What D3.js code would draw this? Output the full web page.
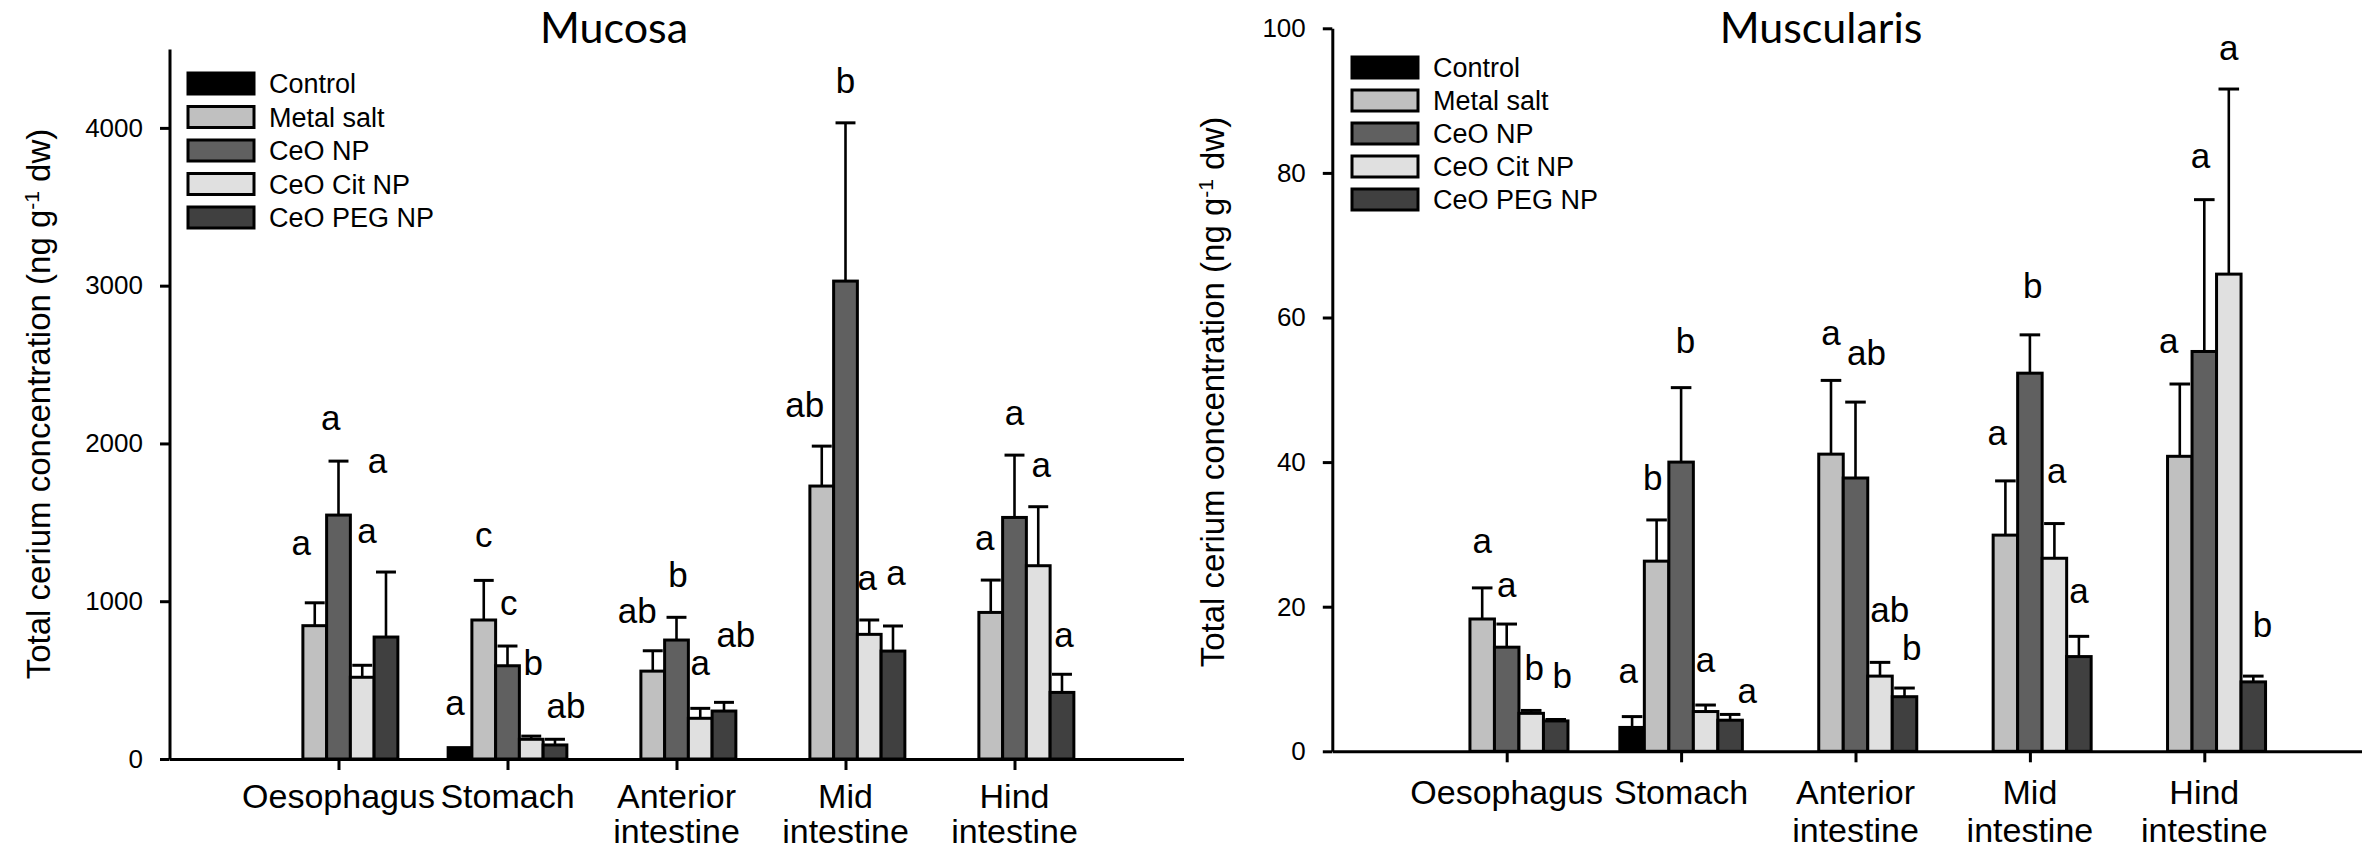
<!DOCTYPE html>
<html>
<head>
<meta charset="utf-8">
<script src="https://cdn.jsdelivr.net/npm/d3@7"></script>
<style>
  body { margin: 0; background: #fff; }
  svg text { font-family: "Liberation Sans", Arial, sans-serif; fill: #000; }
</style>
</head>
<body>
<div id="chart"></div>
<script>
/* Categories and groups */
const regions = ["Oesophagus", "Stomach", "Anterior intestine", "Mid intestine", "Hind intestine"];
const treatments = ["Control", "Metal salt", "CeO NP", "CeO Cit NP", "CeO PEG NP"];

/* Mucosa: mean and SE (ng g-1 dw), one value per region */
const mucControl = [null, 72, null, null, null];
const mucMetal   = [845, 881, 557, 1730, 929];
const mucNP      = [1546, 591, 754, 3029, 1531];
const mucCit     = [518, 125, 258, 790, 1225];
const mucPEG     = [773, 89, 304, 684, 422];

const mucControlSE = [null, 0, null, null, null];
const mucMetalSE   = [145, 251, 129, 253, 205];
const mucNPSE      = [342, 125, 144, 1003, 395];
const mucCitSE     = [76, 20, 63, 91, 374];
const mucPEGSE     = [412, 36, 55, 159, 115];

/* Mucosa: significance letters */
const mucControlLet = [null, "a", null, null, null];
const mucMetalLet   = ["a", "c", "ab", "ab", "a"];
const mucNPLet      = ["a", "c", "b", "b", "a"];
const mucCitLet     = ["a", "b", "a", "a", "a"];
const mucPEGLet     = ["a", "ab", "ab", "a", "a"];

/* Muscularis: mean and SE (ng g-1 dw) */
const musControl = [null, 3.3, null, null, null];
const musMetal   = [18.3, 26.3, 41.1, 29.9, 40.8];
const musNP      = [14.4, 40.0, 37.8, 52.3, 55.3];
const musCit     = [5.25, 5.5, 10.4, 26.7, 66.0];
const musPEG     = [4.2, 4.3, 7.55, 13.1, 9.6];

const musControlSE = [null, 1.5, null, null, null];
const musMetalSE   = [4.3, 5.7, 10.2, 7.5, 10.0];
const musNPSE      = [3.2, 10.3, 10.5, 5.3, 21.0];
const musCitSE     = [0.4, 0.9, 1.9, 4.8, 25.6];
const musPEGSE     = [0.2, 0.8, 1.2, 2.8, 0.8];

const musControlLet = [null, "a", null, null, null];
const musMetalLet   = ["a", "b", "a", "a", "a"];
const musNPLet      = ["a", "b", "ab", "b", "a"];
const musCitLet     = ["b", "a", "ab", "a", "a"];
const musPEGLet     = ["b", "a", "b", "a", "b"];

const mucTicks = [0, 1000, 2000, 3000, 4000];
const musTicks = [0, 20, 40, 60, 80, 100];

/* Letter placement: baseline level (data units) and shift (bar widths) */
const mucLetterAt = [[null, 279, null, null, null], [1293, 1343, 862, 2167, 1324], [2085, 912, 1090, 4220, 2116], [1369, 532, 532, 1071, 1787], [1812, 260, 710, 1102, 710]];
const mucLetterDx = [[0, -0.21, 0, 0, 0], [-0.57, 0, -0.65, -0.72, -0.25], [-0.33, 0.05, 0.06, 0, 0], [0.2, 0.08, 0, -0.08, 0.13], [-0.36, 0.46, 0.5, 0.13, 0.08]];
const musLetterAt = [[null, 9.4, null, null, null], [27.4, 36.1, 56.2, 42.4, 55.1], [21.3, 55.1, 53.4, 62.7, 80.7], [9.9, 11.0, 17.9, 37.1, 95.6], [8.8, 6.7, 12.6, 20.5, 15.8]];
const musLetterDx = [[0, -0.16, 0, 0, 0], [0, -0.16, 0, -0.33, -0.45], [0, 0.18, 0.45, 0.12, -0.16], [0.12, 0, 0.4, 0.1, 0], [0.27, 0.7, 0.29, 0, 0.37]];

const fills = ["#000000", "#c0c0c0", "#606060", "#e0e0e0", "#404040"];

const W = 2362, H = 852;

const svg = d3.select("#chart").append("svg")
  .attr("width", W)
  .attr("height", H);

const panels = [
  {
    title: "Mucosa", titleX: 614,
    x0: 169.5, x1: 1183.5, yZero: 759, yTop: 49, yMax: 4500, ticks: mucTicks,
    means: [mucControl, mucMetal, mucNP, mucCit, mucPEG],
    ses: [mucControlSE, mucMetalSE, mucNPSE, mucCitSE, mucPEGSE],
    letters: [mucControlLet, mucMetalLet, mucNPLet, mucCitLet, mucPEGLet],
    letterAt: mucLetterAt, letterDx: mucLetterDx,
    legX: 188, legY: 73, legStep: 33.5,
    ylabX: 50, ylabY: 404, xlabY: 808, xlabGap: 35
  },
  {
    title: "Muscularis", titleX: 1821,
    x0: 1332.3, x1: 2378.7, yZero: 751.3, yTop: 28.3, yMax: 100, ticks: musTicks,
    means: [musControl, musMetal, musNP, musCit, musPEG],
    ses: [musControlSE, musMetalSE, musNPSE, musCitSE, musPEGSE],
    letters: [musControlLet, musMetalLet, musNPLet, musCitLet, musPEGLet],
    letterAt: musLetterAt, letterDx: musLetterDx,
    legX: 1352, legY: 57, legStep: 33,
    ylabX: 1224, ylabY: 392, xlabY: 804, xlabGap: 38
  }
];

panels.forEach(p => {
  const g = svg.append("g");

  const x = d3.scalePoint()
    .domain(regions)
    .range([p.x0, p.x1])
    .padding(1);
  const bw = x.step() * 0.1405;

  const y = d3.scaleLinear()
    .domain([0, p.yMax])
    .range([p.yZero, p.yTop]);

  /* bars */
  p.means.forEach((series, t) => {
    series.forEach((v, r) => {
      if (v == null) return;
      const cx = x(regions[r]) + (t - 2) * bw;
      const se = p.ses[t][r] || 0;
      if (se > 0) {
        g.append("line")
          .attr("x1", cx).attr("x2", cx)
          .attr("y1", y(v)).attr("y2", y(v + se))
          .attr("stroke", "#000").attr("stroke-width", 2.6);
        g.append("line")
          .attr("x1", cx - bw * 0.42).attr("x2", cx + bw * 0.42)
          .attr("y1", y(v + se)).attr("y2", y(v + se))
          .attr("stroke", "#000").attr("stroke-width", 3);
      }
      g.append("rect")
        .attr("x", cx - bw / 2)
        .attr("y", y(v))
        .attr("width", bw)
        .attr("height", y(0) - y(v))
        .attr("fill", fills[t])
        .attr("stroke", "#000")
        .attr("stroke-width", 3);
    });
  });

  /* letters */
  p.letters.forEach((series, t) => {
    series.forEach((l, r) => {
      if (l == null) return;
      const cx = x(regions[r]) + (t - 2 + p.letterDx[t][r]) * bw;
      g.append("text")
        .attr("x", cx)
        .attr("y", y(p.letterAt[t][r]))
        .attr("text-anchor", "middle")
        .style("font-size", "35px")
        .text(l);
    });
  });

  /* axes */
  const yAxis = d3.axisLeft(y)
    .tickValues(p.ticks)
    .tickFormat(d3.format("d"))
    .tickSize(9.5)
    .tickSizeOuter(0)
    .tickPadding(17);
  const ya = g.append("g")
    .attr("transform", "translate(" + p.x0 + ",0)")
    .call(yAxis);
  ya.select(".domain").attr("stroke-width", 3);
  ya.selectAll(".tick line").attr("stroke-width", 3);
  ya.selectAll(".tick text")
    .style("font-size", "26px")
    .style("font-family", "'Liberation Sans', Arial, sans-serif")
    .attr("fill", "#000");

  const xAxis = d3.axisBottom(x)
    .tickSize(11)
    .tickSizeOuter(0)
    .tickFormat("");
  const xa = g.append("g")
    .attr("transform", "translate(0," + p.yZero + ")")
    .call(xAxis);
  xa.select(".domain").attr("stroke-width", 3);
  xa.selectAll(".tick line").attr("stroke-width", 3);

  /* category labels, broken on spaces */
  regions.forEach(name => {
    const t = g.append("text")
      .attr("text-anchor", "middle")
      .style("font-size", "34px");
    name.split(" ").forEach((w, i) => {
      t.append("tspan")
        .attr("x", x(name))
        .attr("y", p.xlabY + i * p.xlabGap)
        .text(w);
    });
  });

  /* y axis title */
  const yl = g.append("text")
    .attr("transform", "translate(" + p.ylabX + "," + p.ylabY + ") rotate(-90)")
    .attr("text-anchor", "middle")
    .style("font-size", "33px");
  yl.append("tspan").text("Total cerium concentration (ng g");
  yl.append("tspan").attr("baseline-shift", "super").style("font-size", "21px").text("-1");
  yl.append("tspan").text(" dw)");

  /* panel title */
  g.append("text")
    .attr("x", p.titleX)
    .attr("y", 43)
    .attr("text-anchor", "middle")
    .style("font-family", "Lato, 'Open Sans', sans-serif")
    .style("font-size", "43px")
    .text(p.title);

  /* legend */
  const leg = g.append("g");
  treatments.forEach((name, i) => {
    const ly = p.legY + i * p.legStep;
    leg.append("rect")
      .attr("x", p.legX).attr("y", ly)
      .attr("width", 66).attr("height", 21)
      .attr("fill", fills[i])
      .attr("stroke", "#000").attr("stroke-width", 3);
    leg.append("text")
      .attr("x", p.legX + 81)
      .attr("y", ly + 20)
      .style("font-size", "27px")
      .text(name);
  });
});
</script>
</body>
</html>
